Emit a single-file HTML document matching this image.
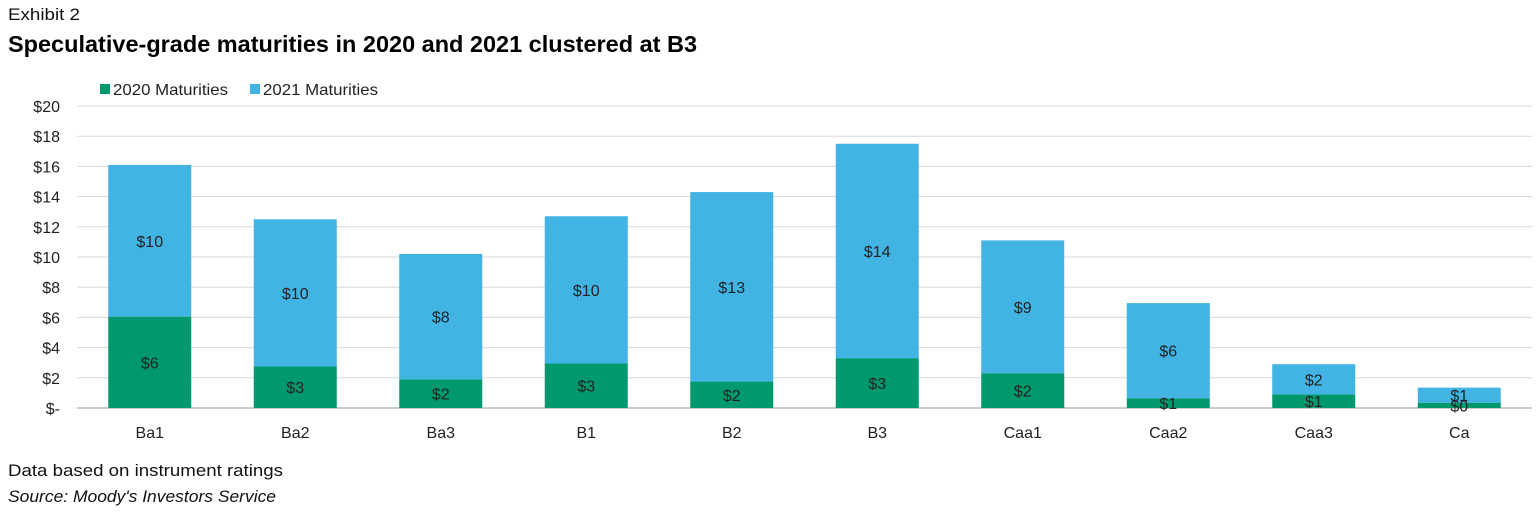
<!DOCTYPE html>
<html><head><meta charset="utf-8"><style>
body{margin:0;background:#fff;width:1538px;height:516px;overflow:hidden;font-family:"Liberation Sans",sans-serif}
</style></head><body>
<svg id="c" width="1538" height="516" xmlns="http://www.w3.org/2000/svg">
<text x="8" y="20" font-size="17" fill="#111" textLength="72" lengthAdjust="spacingAndGlyphs">Exhibit 2</text>
<text x="8" y="52" font-size="23" font-weight="bold" fill="#000" textLength="689" lengthAdjust="spacingAndGlyphs">Speculative-grade maturities in 2020 and 2021 clustered at B3</text>
<rect x="100" y="84" width="10" height="10" fill="#00996E"/>
<text x="113" y="95" font-size="16" fill="#222" textLength="115" lengthAdjust="spacingAndGlyphs">2020 Maturities</text>
<rect x="250" y="84" width="10" height="10" fill="#41B4E4"/>
<text x="263" y="95" font-size="16" fill="#222" textLength="115" lengthAdjust="spacingAndGlyphs">2021 Maturities</text>
<text x="8" y="476" font-size="17" fill="#111" textLength="275" lengthAdjust="spacingAndGlyphs">Data based on instrument ratings</text>
<text x="8" y="502" font-size="17" font-style="italic" fill="#111" textLength="268" lengthAdjust="spacingAndGlyphs">Source: Moody's Investors Service</text>
<g id="plot"></g>
</svg>
<script>
const categories=["Ba1","Ba2","Ba3","B1","B2","B3","Caa1","Caa2","Caa3","Ca"];
const values2020=[6.05,2.75,1.9,2.95,1.75,3.3,2.3,0.65,0.9,0.35];
const values2021=[10.05,9.75,8.3,9.75,12.55,14.2,8.8,6.3,2.0,1.0];
const labels2020=["$6","$3","$2","$3","$2","$3","$2","$1","$1","$0"];
const labels2021=["$10","$10","$8","$10","$13","$14","$9","$6","$2","$1"];
const yTicks=[0,2,4,6,8,10,12,14,16,18,20];
const NS="http://www.w3.org/2000/svg";
const g=document.getElementById("plot");
const x0=77,x1=1532,y0=408,yTop=106;
const y=v=>y0-(v/20)*(y0-yTop);
const band=(x1-x0)/categories.length;
const bw=83;
function mk(t,a){const e=document.createElementNS(NS,t);for(const k in a)e.setAttribute(k,a[k]);g.appendChild(e);return e;}
yTicks.forEach(t=>{
 const l=mk("line",{x1:x0,x2:x1,y1:y(t),y2:y(t),stroke:t===0?"#999":"#d9d9d9","stroke-width":1});
 
 
 const tx=mk("text",{x:60,y:y(t)+6,"font-size":16,"text-anchor":"end",fill:"#222"});
 tx.textContent=t===0?"$-":"$"+t;
 
 
});
categories.forEach((c,i)=>{
 const cx=x0+band*(i+0.5);
 const a=values2020[i],b=values2021[i];
 const r1=mk("rect",{x:cx-bw/2,y:y(a),width:bw,height:y0-y(a),fill:"#00996E"});
 
 
 const r2=mk("rect",{x:cx-bw/2,y:y(a+b),width:bw,height:y(a)-y(a+b),fill:"#41B4E4"});
 
 
 const t1=mk("text",{x:cx,y:(y0+y(a))/2+6,"font-size":16,"text-anchor":"middle",fill:"#222"});
 t1.textContent=labels2020[i];
 
 
 const t2=mk("text",{x:cx,y:(y(a)+y(a+b))/2+6,"font-size":16,"text-anchor":"middle",fill:"#222"});
 t2.textContent=labels2021[i];
 
 
 const ct=mk("text",{x:cx,y:438,"font-size":16,"text-anchor":"middle",fill:"#222"});
 ct.textContent=c;
 
 
});
</script>
</body></html>
